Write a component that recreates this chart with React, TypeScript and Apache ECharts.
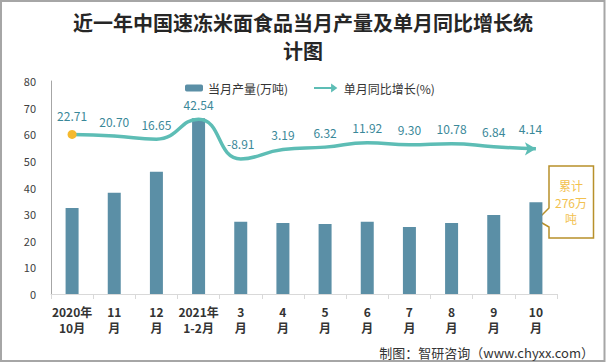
import React, { useEffect, useRef } from "react";
import * as echarts from "echarts";

const categories = [
  "2020年\n10月", "11\n月", "12\n月", "2021年\n1-2月", "3\n月", "4\n月",
  "5\n月", "6\n月", "7\n月", "8\n月", "9\n月", "10\n月",
];
const production = [32.3, 38.0, 45.9, 66.0, 27.1, 26.7, 26.3, 27.1, 25.2, 26.7, 29.7, 34.5];
const growth = [22.71, 20.7, 16.65, 42.54, -8.91, 3.19, 6.32, 11.92, 9.3, 10.78, 6.84, 4.14];
const yTicks = [0, 10, 20, 30, 40, 50, 60, 70, 80];

const BAR_COLOR = "#5b8fa6";
const LINE_COLOR = "#5dbdb5";
const FONT = "'Noto Sans CJK SC', 'Noto Sans', sans-serif";

export default function App() {
  const ref = useRef<HTMLDivElement>(null);
  useEffect(() => {
    if (!ref.current) return;
    const chart = echarts.init(ref.current, null, { renderer: "svg" });
    const lineData = growth.map((v, i) => {
      if (i === 0) {
        return { value: v, symbol: "circle", symbolSize: 9, itemStyle: { color: "#f5b92e" } };
      }
      if (i === growth.length - 1) {
        return { value: v, symbol: "arrow", symbolSize: [10, 11], symbolRotate: -90 };
      }
      return { value: v };
    });
    chart.setOption({
      animation: false,
      textStyle: { fontFamily: FONT },
      graphic: [
        {
          type: "rect",
          shape: { x: 1, y: 1, width: 603.5, height: 360 },
          style: { fill: "none", stroke: "#a6a6a6", lineWidth: 2 },
          silent: true,
        },
        {
          type: "text",
          x: 303,
          y: 22,
          style: {
            text: "近一年中国速冻米面食品当月产量及单月同比增长统",
            fontSize: 20,
            fontWeight: "bold",
            fill: "#262626",
            align: "center",
            verticalAlign: "middle",
            fontFamily: FONT,
          },
        },
        {
          type: "text",
          x: 303,
          y: 50,
          style: {
            text: "计图",
            fontSize: 20,
            fontWeight: "bold",
            fill: "#262626",
            align: "center",
            verticalAlign: "middle",
            fontFamily: FONT,
          },
        },
        {
          type: "polygon",
          shape: {
            points: [
              [549, 166], [593.5, 166], [593.5, 238], [549, 238], [549, 227], [537, 220], [549, 208],
            ],
          },
          style: { fill: "#fff", stroke: "#b8902a", lineWidth: 1.5 },
        },
        {
          type: "text",
          x: 571,
          y: 202,
          style: {
            text: "累计\n276万\n吨",
            fontSize: 12,
            lineHeight: 16.5,
            fill: "#f2c14e",
            align: "center",
            verticalAlign: "middle",
            fontFamily: FONT,
          },
        },
        {
          type: "text",
          x: 594,
          y: 352,
          style: {
            text: "制图：智研咨询（www.chyxx.com）",
            fontSize: 13,
            fill: "#333",
            align: "right",
            verticalAlign: "middle",
            fontFamily: FONT,
          },
        },
      ],
      legend: [
        {
          data: ["当月产量(万吨)"],
          left: 180,
          top: 77,
          itemWidth: 18,
          itemHeight: 7,
          itemGap: 5,
          textStyle: { fontSize: 12, color: "#333" },
        },
        {
          data: [{ name: "单月同比增长(%)", icon: "path://M0,4L19,4L19,0L26,5L19,10L19,6L0,6Z" }],
          left: 309,
          top: 77,
          itemWidth: 26,
          itemHeight: 9,
          textStyle: { fontSize: 12, color: "#333" },
        },
      ],
      grid: { left: 51, right: 49, top: 81, bottom: 69, containLabel: false },
      xAxis: {
        type: "category",
        data: categories,
        axisLine: { lineStyle: { color: "#d9d9d9", width: 1 } },
        axisTick: { show: true, length: 5, lineStyle: { color: "#d9d9d9" } },
        axisLabel: {
          interval: 0,
          fontSize: 12,
          fontWeight: "bold",
          color: "#333",
          lineHeight: 16,
          margin: 9,
        },
      },
      yAxis: [
        {
          type: "value",
          min: yTicks[0],
          max: yTicks[yTicks.length - 1],
          interval: 10,
          axisLine: { show: true, lineStyle: { color: "#a6a6a6" } },
          axisTick: { show: false },
          splitLine: { show: false },
          axisLabel: { fontSize: 11, color: "#404040", margin: 15 },
        },
        {
          type: "value",
          min: -184,
          max: 92,
          show: false,
          splitLine: { show: false },
        },
      ],
      series: [
        {
          name: "当月产量(万吨)",
          type: "bar",
          data: production,
          barWidth: 13,
          itemStyle: { color: BAR_COLOR },
        },
        {
          name: "单月同比增长(%)",
          type: "line",
          yAxisIndex: 1,
          data: lineData,
          smooth: 0.5,
          symbol: "circle",
          symbolSize: 2,
          showSymbol: true,
          lineStyle: { color: LINE_COLOR, width: 3.5 },
          itemStyle: { color: LINE_COLOR },
          label: {
            show: true,
            position: "top",
            distance: 8,
            fontSize: 12,
            color: "#3a8899",
            formatter: (p: any) => Number(p.value).toFixed(2),
          },
        },
      ],
    });
    return () => chart.dispose();
  }, []);
  return (
    <div
      ref={ref}
      style={{ position: "fixed", left: 0, top: 0, width: 606, height: 363, background: "#fff" }}
    />
  );
}
